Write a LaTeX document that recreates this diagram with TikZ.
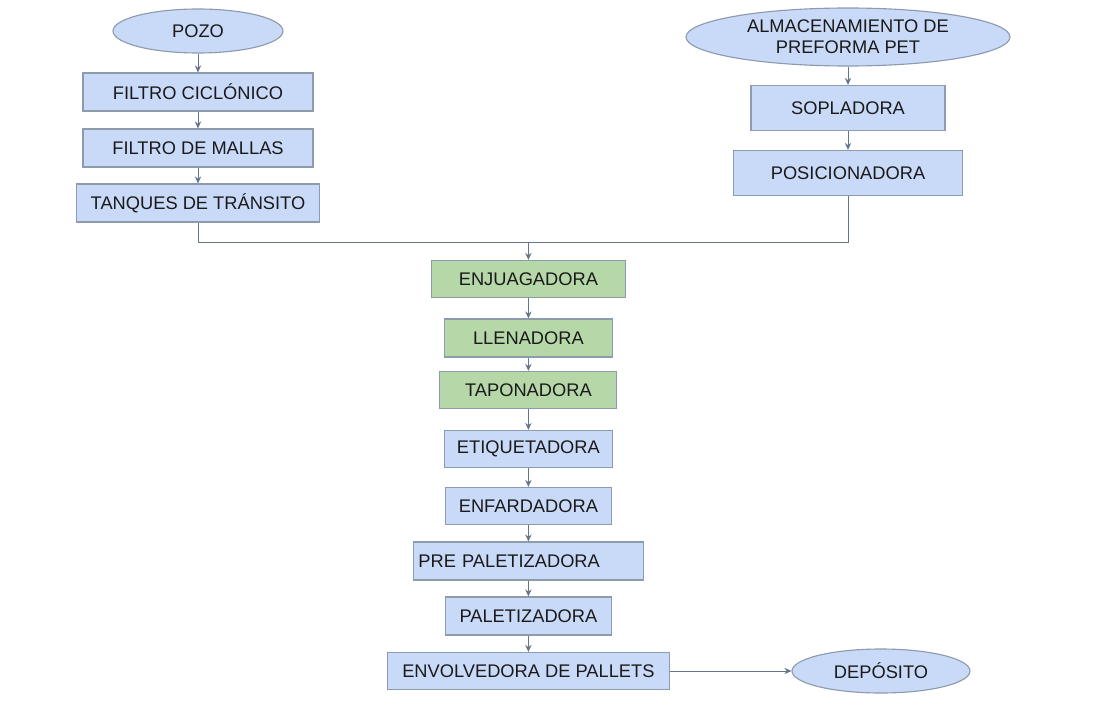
\documentclass[tikz,border=0pt]{standalone}
\usepackage{fontspec}
\setmainfont{Liberation Sans}
\usepackage{xcolor}
\usetikzlibrary{shapes.geometric, arrows.meta}

\definecolor{boxblue}{HTML}{C9DAF8}
\definecolor{boxgreen}{HTML}{B6D7A8}
\definecolor{edgegray}{HTML}{8E9BAD}
\definecolor{linegray}{HTML}{66768A}
\definecolor{textgray}{HTML}{1A1A1A}

\begin{document}
\begin{tikzpicture}[
    every node/.style={font=\fontsize{13}{15}\selectfont, text=textgray, inner sep=0pt},
    proc/.style={draw=edgegray, line width=0.8pt, fill=boxblue, rectangle},
    greenproc/.style={proc, fill=boxgreen},
    term/.style={draw=edgegray, line width=0.8pt, fill=boxblue, ellipse, align=center},
    link/.style={draw=linegray, line width=0.7pt},
    flow/.style={link, -{Stealth[length=5pt, width=4.5pt]}}
]
    \useasboundingbox (0, 0) rectangle (27.575, -17.7);

    % water line
    \node[term, minimum width=4.25cm, minimum height=1.1cm] (pozo) at (4.95, -0.775) {POZO};
    \node[proc, minimum width=5.75cm, minimum height=0.95cm] (ciclon) at (4.95, -2.3) {FILTRO CICLÓNICO};
    \node[proc, minimum width=5.75cm, minimum height=0.95cm] (mallas) at (4.95, -3.7) {FILTRO DE MALLAS};
    \node[proc, minimum width=6.075cm, minimum height=0.95cm] (tanques) at (4.95, -5.075) {TANQUES DE TRÁNSITO};

    % bottle line
    \node[term, minimum width=8.1cm, minimum height=1.45cm] (almacen) at (21.2, -0.925) {ALMACENAMIENTO DE\\PREFORMA PET};
    \node[proc, minimum width=4.85cm, minimum height=1.125cm] (sopla) at (21.2, -2.7) {SOPLADORA};
    \node[proc, minimum width=5.725cm, minimum height=1.125cm] (posic) at (21.2, -4.325) {POSICIONADORA};

    \coordinate (junta) at (13.21, -6.05);

    % main line
    \node[greenproc, minimum width=4.85cm, minimum height=0.925cm] (enjuag) at (13.21, -6.975) {ENJUAGADORA};
    \node[greenproc, minimum width=4.2cm, minimum height=0.95cm] (llena) at (13.21, -8.45) {LLENADORA};
    \node[greenproc, minimum width=4.425cm, minimum height=0.925cm] (tapon) at (13.21, -9.75) {TAPONADORA};
    \node[proc, minimum width=4.2cm, minimum height=0.925cm] (etiq) at (13.21, -11.225) {ETIQUETADORA};
    \node[proc, minimum width=4.15cm, minimum height=0.925cm] (enfard) at (13.21, -12.65) {ENFARDADORA};
    \node[proc, minimum width=5.75cm, minimum height=0.95cm, text width=5.5cm, inner xsep=0.125cm, align=left] (prepal) at (13.21, -14.025) {PRE PALETIZADORA};
    \node[proc, minimum width=4.15cm, minimum height=0.95cm] (paletiz) at (13.21, -15.4) {PALETIZADORA};
    \node[proc, minimum width=7.05cm, minimum height=0.925cm] (envolv) at (13.21, -16.775) {ENVOLVEDORA DE PALLETS};
    \node[term, minimum width=4.45cm, minimum height=1.1cm] (deposito) at (22.025, -16.775) {DEPÓSITO};

    \draw[flow] (pozo) -- (ciclon);
    \draw[flow] (ciclon) -- (mallas);
    \draw[flow] (mallas) -- (tanques);
    \draw[flow] (almacen) -- (sopla);
    \draw[flow] (sopla) -- (posic);
    \draw[link] (tanques.south) |- (junta);
    \draw[link] (posic.south) |- (junta);
    \draw[flow] (junta) -- (enjuag);
    \draw[flow] (enjuag) -- (llena);
    \draw[flow] (llena) -- (tapon);
    \draw[flow] (tapon) -- (etiq);
    \draw[flow] (etiq) -- (enfard);
    \draw[flow] (enfard) -- (prepal);
    \draw[flow] (prepal) -- (paletiz);
    \draw[flow] (paletiz) -- (envolv);
    \draw[flow] (envolv) -- (deposito);
\end{tikzpicture}
\end{document}
